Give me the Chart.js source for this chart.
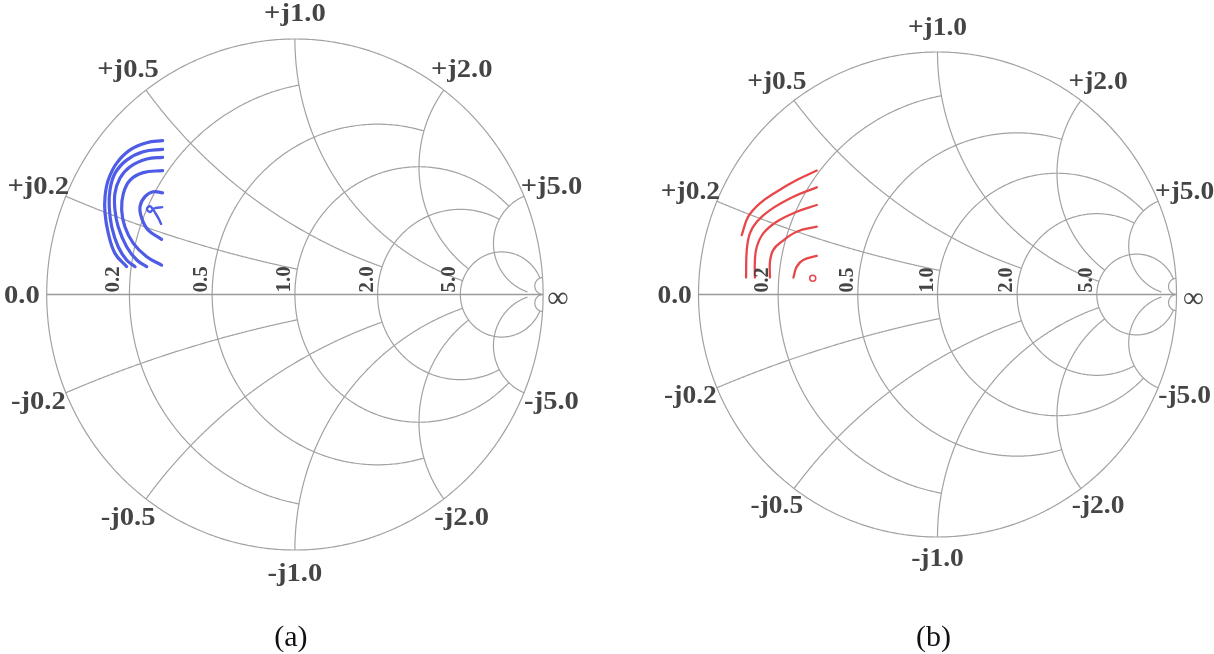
<!DOCTYPE html>
<html><head><meta charset="utf-8">
<script src="https://cdn.jsdelivr.net/npm/chart.js@4.4.1/dist/chart.umd.min.js"></script>
<style>
html,body{margin:0;padding:0;background:#fff;}
#wrap{position:relative;width:1214px;height:654px;overflow:hidden;}
.cv{position:absolute;top:0;width:607px;height:654px;}
</style></head><body>
<div id="wrap">
<div class="cv" style="left:0"><canvas id="c1" width="607" height="654"></canvas></div>
<div class="cv" style="left:607px"><canvas id="c2" width="607" height="654"></canvas></div>
</div>
<script>
// ---- Smith chart grid values (MATLAB-style grid: value and its drawing limit) ----
const resistanceValues = [0.2, 0.5, 1.0, 2.0, 5.0];
const resistanceLimits = [1.0, 2.0, 5.0, 5.0, 30];
const reactanceValues  = [0.2, 0.5, 1.0, 2.0, 5.0];
const reactanceLimits  = [1.0, 2.0, 5.0, 5.0, 30];
const tinyReactance    = [30];
const rLabels = ['0.2', '0.5', '1.0', '2.0', '5.0'];
const xLabels = ['0.2', '0.5', '1.0', '2.0', '5.0'];

// ---- panel (a): blue contours, reflection coefficient (Re, Im) ----
const a1Re = [-0.533, -0.597, -0.664, -0.718, -0.752, -0.765, -0.765, -0.752, -0.725, -0.678];
const a1Im = [0.602, 0.594, 0.566, 0.514, 0.448, 0.383, 0.318, 0.240, 0.161, 0.109];
const a2Re = [-0.533, -0.611, -0.678, -0.725, -0.745, -0.748, -0.738, -0.712, -0.678, -0.644];
const a2Im = [0.568, 0.559, 0.526, 0.474, 0.409, 0.344, 0.265, 0.187, 0.135, 0.109];
const a3Re = [-0.533, -0.597, -0.664, -0.705, -0.725, -0.725, -0.712, -0.678, -0.637, -0.597];
const a3Im = [0.537, 0.530, 0.500, 0.455, 0.396, 0.331, 0.265, 0.187, 0.135, 0.109];
const a4Re = [-0.533, -0.611, -0.664, -0.691, -0.698, -0.685, -0.651, -0.597, -0.537];
const a4Im = [0.485, 0.477, 0.448, 0.396, 0.331, 0.265, 0.200, 0.148, 0.115];
const a5Re = [-0.533, -0.571, -0.604, -0.624, -0.617, -0.591, -0.537];
const a5Im = [0.398, 0.402, 0.383, 0.344, 0.298, 0.252, 0.216];
const a6Re = [-0.535, -0.564, -0.572, -0.584, -0.596, -0.584, -0.572, -0.560, -0.548, -0.539];
const a6Im = [0.342, 0.338, 0.335, 0.346, 0.335, 0.323, 0.331, 0.315, 0.295, 0.276];

// ---- panel (b): red contours ----
const b1Re = [-0.505, -0.589, -0.673, -0.743, -0.792, -0.819];
const b1Im = [0.511, 0.472, 0.424, 0.376, 0.321, 0.245];
const b2Re = [-0.505, -0.603, -0.701, -0.756, -0.785, -0.798, -0.801];
const b2Im = [0.442, 0.403, 0.348, 0.300, 0.252, 0.184, 0.070];
const b3Re = [-0.505, -0.589, -0.673, -0.729, -0.756, -0.764, -0.764];
const b3Im = [0.369, 0.341, 0.300, 0.252, 0.197, 0.142, 0.070];
const b4Re = [-0.505, -0.589, -0.652, -0.687, -0.701, -0.701];
const b4Im = [0.280, 0.259, 0.218, 0.184, 0.135, 0.070];
const b5Re = [-0.505, -0.562, -0.589, -0.603];
const b5Im = [0.159, 0.142, 0.115, 0.070];
const bDotRe = [-0.522];
const bDotIm = [0.067];

function gamma(r, x) {
  if (!isFinite(r)) return [1, 0];
  const d = (r + 1) * (r + 1) + x * x;
  return [(r * r + x * x - 1) / d, (2 * x) / d];
}
function arcPts(cx, cy, R, a0, a1, n) {
  n = n || 300;
  const pts = [];
  for (let i = 0; i <= n; i++) {
    const a = a0 + (a1 - a0) * i / n;
    pts.push([cx + R * Math.cos(a), cy + R * Math.sin(a)]);
  }
  return pts;
}
function series(re, im, color, width) {
  return {
    data: re.map((v, i) => ({ x: v, y: im[i] })),
    showLine: true, borderColor: color, borderWidth: width,
    pointRadius: 0, tension: 0.4, fill: false, borderCapStyle: 'round', borderJoinStyle: 'round'
  };
}

function smithPlugin(o) {
  return {
    id: 'smith' + o.tag,
    beforeDatasetsDraw(chart) {
      const ctx = chart.ctx, xs = chart.scales.x, ys = chart.scales.y;
      const P = g => [xs.getPixelForValue(g[0]), ys.getPixelForValue(g[1])];
      const poly = pts => {
        ctx.beginPath();
        pts.forEach((g, i) => { const p = P(g); if (i) ctx.lineTo(p[0], p[1]); else ctx.moveTo(p[0], p[1]); });
        ctx.stroke();
      };
      ctx.save();
      ctx.strokeStyle = '#a2a2a2';
      ctx.lineWidth = 1.2;
      poly(arcPts(0, 0, 1, 0, 2 * Math.PI, 600));
      resistanceValues.forEach((r, i) => {
        const L = resistanceLimits[i], c = r / (1 + r), R = 1 / (1 + r);
        const g = gamma(r, L);
        const phi = Math.atan2(g[1], g[0] - c);
        poly(arcPts(c, 0, R, phi, 2 * Math.PI - phi));
      });
      const xArc = (xx, L) => {
        const cy = 1 / xx, R = Math.abs(1 / xx);
        const g0 = gamma(0, xx), g1 = gamma(L, xx);
        const a0 = Math.atan2(g0[1] - cy, g0[0] - 1);
        const a1 = Math.atan2(g1[1] - cy, g1[0] - 1);
        let d = a1 - a0;
        while (d > Math.PI) d -= 2 * Math.PI;
        while (d < -Math.PI) d += 2 * Math.PI;
        poly(arcPts(1, cy, R, a0, a0 + d));
      };
      reactanceValues.forEach((x, i) => { xArc(x, reactanceLimits[i]); xArc(-x, reactanceLimits[i]); });
      tinyReactance.forEach(x => { xArc(x, Infinity); xArc(-x, Infinity); });
      ctx.strokeStyle = '#9a9a9a';
      ctx.lineWidth = 1.5;
      poly([[-1, 0], [1, 0]]);
      ctx.restore();
    },
    afterDraw(chart) {
      const ctx = chart.ctx, xs = chart.scales.x, ys = chart.scales.y;
      const P = g => [xs.getPixelForValue(g[0]), ys.getPixelForValue(g[1])];
      const txt = (s, x, y, sx) => {
        ctx.save(); ctx.translate(x, y); ctx.scale(sx, 1);
        ctx.textAlign = 'center'; ctx.textBaseline = 'middle';
        ctx.fillText(s, 0, 0); ctx.restore();
      };
      ctx.save();
      ctx.fillStyle = '#454545';
      ctx.font = 'bold ' + o.fs + 'px "Liberation Serif", "Times New Roman", serif';
      reactanceValues.forEach((x, i) => {
        [1, -1].forEach(sg => {
          const g = gamma(0, sg * x);
          const p = P([g[0] * 1.12, g[1] * 1.095]);
          txt((sg > 0 ? '+j' : '-j') + xLabels[i], p[0], p[1], o.sx);
        });
      });
      const p0 = P([-1.1, 0]);
      txt('0.0', p0[0], p0[1] + 2, o.sx);
      // rotated resistance labels
      ctx.font = 'bold ' + o.rfs + 'px "Liberation Serif", "Times New Roman", serif';
      resistanceValues.forEach((r, i) => {
        const g = gamma(r, 0);
        const p = P(g);
        const gap = r < 0.3 ? 10 : 5;
        ctx.save(); ctx.translate(p[0] - gap, p[1] - 2); ctx.rotate(-Math.PI / 2);
        ctx.textAlign = 'left'; ctx.textBaseline = 'alphabetic';
        ctx.fillText(rLabels[i], 0, 0); ctx.restore();
      });
      ctx.font = o.infs + 'px "Liberation Serif", "Times New Roman", serif';
      const pi = P([o.infX, 0]);
      txt('\u221E', pi[0], pi[1] + 5, 1);
      // caption
      ctx.fillStyle = '#111';
      ctx.font = o.cfs + 'px "Liberation Serif", "Times New Roman", serif';
      const ca = chart.chartArea;
      txt(o.caption, (ca.left + ca.right) / 2 - 4, 638, 1);
      ctx.restore();
    }
  };
}

function makeChart(id, datasets, pad, o) {
  return new Chart(document.getElementById(id), {
    type: 'scatter',
    data: { datasets },
    options: {
      responsive: false, animation: false, devicePixelRatio: 1,
      layout: { padding: pad },
      plugins: { legend: { display: false }, tooltip: { enabled: false } },
      scales: {
        x: { type: 'linear', min: -1, max: 1, display: false },
        y: { type: 'linear', min: -1, max: 1, display: false }
      }
    },
    plugins: [smithPlugin(o)]
  });
}

const blue = '#4e5ce6', red = '#e8474a';
makeChart('c1', [
  series(a1Re, a1Im, blue, 3.2), series(a2Re, a2Im, blue, 3.2), series(a3Re, a3Im, blue, 3.2),
  series(a4Re, a4Im, blue, 3.2), series(a5Re, a5Im, blue, 3.2), series(a6Re, a6Im, blue, 2.4)
], { left: 46.7, right: 63.9, top: 39, bottom: 104 },
  { tag: 'a', fs: 26, sx: 1.1, rfs: 21, infs: 30, infX: 1.06, cfs: 30, caption: '(a)' });

makeChart('c2', [
  series(b1Re, b1Im, red, 2.3), series(b2Re, b2Im, red, 2.3), series(b3Re, b3Im, red, 2.3),
  series(b4Re, b4Im, red, 2.3), series(b5Re, b5Im, red, 2.3),
  { data: bDotRe.map((v, i) => ({ x: v, y: bDotIm[i] })), showLine: false, pointRadius: 3,
    pointStyle: 'circle', borderColor: red, backgroundColor: 'rgba(0,0,0,0)', borderWidth: 1.5 }
], { left: 91.5, right: 37.5, top: 52, bottom: 117 },
  { tag: 'b', fs: 25, sx: 1.1, rfs: 20, infs: 29, infX: 1.07, cfs: 30, caption: '(b)' });
</script>
</body></html>
